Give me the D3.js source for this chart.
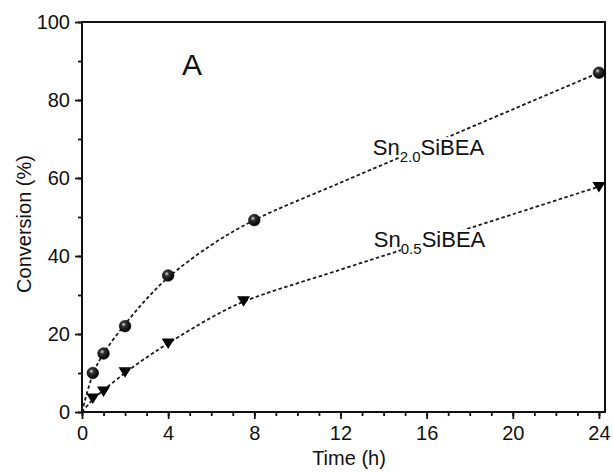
<!DOCTYPE html>
<html>
<head>
<meta charset="utf-8">
<script src="https://cdn.jsdelivr.net/npm/d3@7"></script>
<style>
  html, body { margin: 0; padding: 0; background: #fff; }
  svg { display: block; font-family: "Liberation Sans", Arial, sans-serif; }
</style>
</head>
<body>
<svg id="chart" width="613" height="472"></svg>
<script>
// ---- data (measured points) ----
const timeSn20 = [0.5, 1, 2, 4, 8, 24];
const convSn20 = [10, 15, 22, 35, 49.2, 87];
const timeSn05 = [0.5, 1, 2, 4, 7.5, 24];
const convSn05 = [3.6, 5.4, 10.3, 17.7, 28.5, 57.8];
// ---- fitted (dashed) curves ----
const fitTimeSn20 = [0, 0.5, 1, 2, 3, 4, 6, 8, 12, 16, 20, 24];
const fitConvSn20 = [0, 9.6, 15, 22.5, 29, 34.5, 42.8, 49.2, 58.8, 68.2, 77.6, 87];
const fitTimeSn05 = [0, 0.5, 1, 2, 3, 4, 6, 7.5, 12, 16, 20, 24];
const fitConvSn05 = [0, 3.2, 5.6, 10, 14, 17.6, 24.2, 28.3, 36.5, 43.6, 50.7, 57.8];
const xTicks = [0, 4, 8, 12, 16, 20, 24];
const yTicks = [0, 20, 40, 60, 80, 100];
const xMinorTicks = d3.range(0, 25, 1);
const yMinorTicks = d3.range(0, 101, 10);

// ---- layout ----
const svg = d3.select("#chart");
const L = 82, R = 605, T = 22, B = 412;
const x = d3.scaleLinear().domain([0, 24.28]).range([L, R]);
const y = d3.scaleLinear().domain([0, 100]).range([B, T]);

// defs: sphere-like gradient for circles
const defs = svg.append("defs");
const grad = defs.append("radialGradient").attr("id", "ball")
  .attr("cx", "38%").attr("cy", "35%").attr("r", "65%");
grad.append("stop").attr("offset", "0%").attr("stop-color", "#e0e0e0");
grad.append("stop").attr("offset", "30%").attr("stop-color", "#333");
grad.append("stop").attr("offset", "100%").attr("stop-color", "#000");

// frame
svg.append("rect").attr("x", L).attr("y", T).attr("width", R - L).attr("height", B - T)
  .attr("fill", "none").attr("stroke", "#111").attr("stroke-width", 2);

// axes
const axFont = 20;
const xMinor = svg.append("g").attr("transform", `translate(0,${B})`)
  .call(d3.axisBottom(x).tickValues(xMinorTicks).tickSize(4).tickFormat(""));
const xMajor = svg.append("g").attr("transform", `translate(0,${B})`)
  .call(d3.axisBottom(x).tickValues(xTicks).tickSize(7).tickPadding(7).tickFormat(d3.format("d")));
const yMinor = svg.append("g").attr("transform", `translate(${L},0)`)
  .call(d3.axisLeft(y).tickValues(yMinorTicks).tickSize(4).tickFormat(""));
const yMajor = svg.append("g").attr("transform", `translate(${L},0)`)
  .call(d3.axisLeft(y).tickValues(yTicks).tickSize(7).tickPadding(5).tickFormat(d3.format("d")));
[xMinor, xMajor, yMinor, yMajor].forEach(g => {
  g.select(".domain").remove();
  g.selectAll(".tick line").attr("stroke", "#111").attr("stroke-width", 1.8);
  g.selectAll(".tick text").attr("font-size", axFont).attr("fill", "#111")
    .attr("font-family", "Liberation Sans, Arial, sans-serif");
});

// axis titles
svg.append("text").attr("x", 349).attr("y", 465).attr("text-anchor", "middle")
  .attr("font-size", 20).attr("fill", "#111").text("Time (h)");
svg.append("text").attr("transform", `translate(31,${224}) rotate(-90)`)
  .attr("text-anchor", "middle").attr("font-size", 20).attr("fill", "#111").text("Conversion (%)");

// panel letter
svg.append("text").attr("x", 192).attr("y", 75).attr("text-anchor", "middle")
  .attr("font-size", 30).attr("fill", "#111").text("A");

// fit lines
const line = d3.line().x(d => x(d[0])).y(d => y(d[1])).curve(d3.curveCatmullRom.alpha(0.5));
const f20 = fitTimeSn20.map((t, i) => [t, fitConvSn20[i]]);
const f05 = fitTimeSn05.map((t, i) => [t, fitConvSn05[i]]);
[f20, f05].forEach(s => {
  svg.append("path").attr("d", line(s)).attr("fill", "none")
    .attr("stroke", "#1a1a1a").attr("stroke-width", 1.8).attr("stroke-dasharray", "3.5,2.5");
});

// labels with white background over the lines
function seriesLabel(px, py, sub) {
  const g = svg.append("g");
  const t = g.append("text").attr("x", px).attr("y", py).attr("font-size", 22).attr("fill", "#111");
  t.append("tspan").text("Sn");
  t.append("tspan").attr("font-size", 15).attr("dy", 7).text(sub);
  t.append("tspan").attr("dy", -7).text("SiBEA");
  const bb = t.node().getBBox();
  const capTop = py - 22 * 0.72 - 2;
  g.insert("rect", "text").attr("x", bb.x + 27).attr("y", capTop)
    .attr("width", bb.width - 27).attr("height", py + 9 - capTop).attr("fill", "#fff");
}
seriesLabel(x(13.5), y(65.9), "2.0");
seriesLabel(x(13.55), y(42.3), "0.5");

// markers
svg.append("g").selectAll("circle").data(timeSn20).join("circle")
  .attr("cx", d => x(d)).attr("cy", (d, i) => y(convSn20[i])).attr("r", 5.8)
  .attr("fill", "url(#ball)").attr("stroke", "#000").attr("stroke-width", 0.6);
svg.append("g").selectAll("path").data(timeSn05).join("path")
  .attr("transform", (d, i) => `translate(${x(d)},${y(convSn05[i])})`)
  .attr("d", "M-6.5,-4.5L6.5,-4.5L0,6Z").attr("fill", "#000");
</script>
</body>
</html>
